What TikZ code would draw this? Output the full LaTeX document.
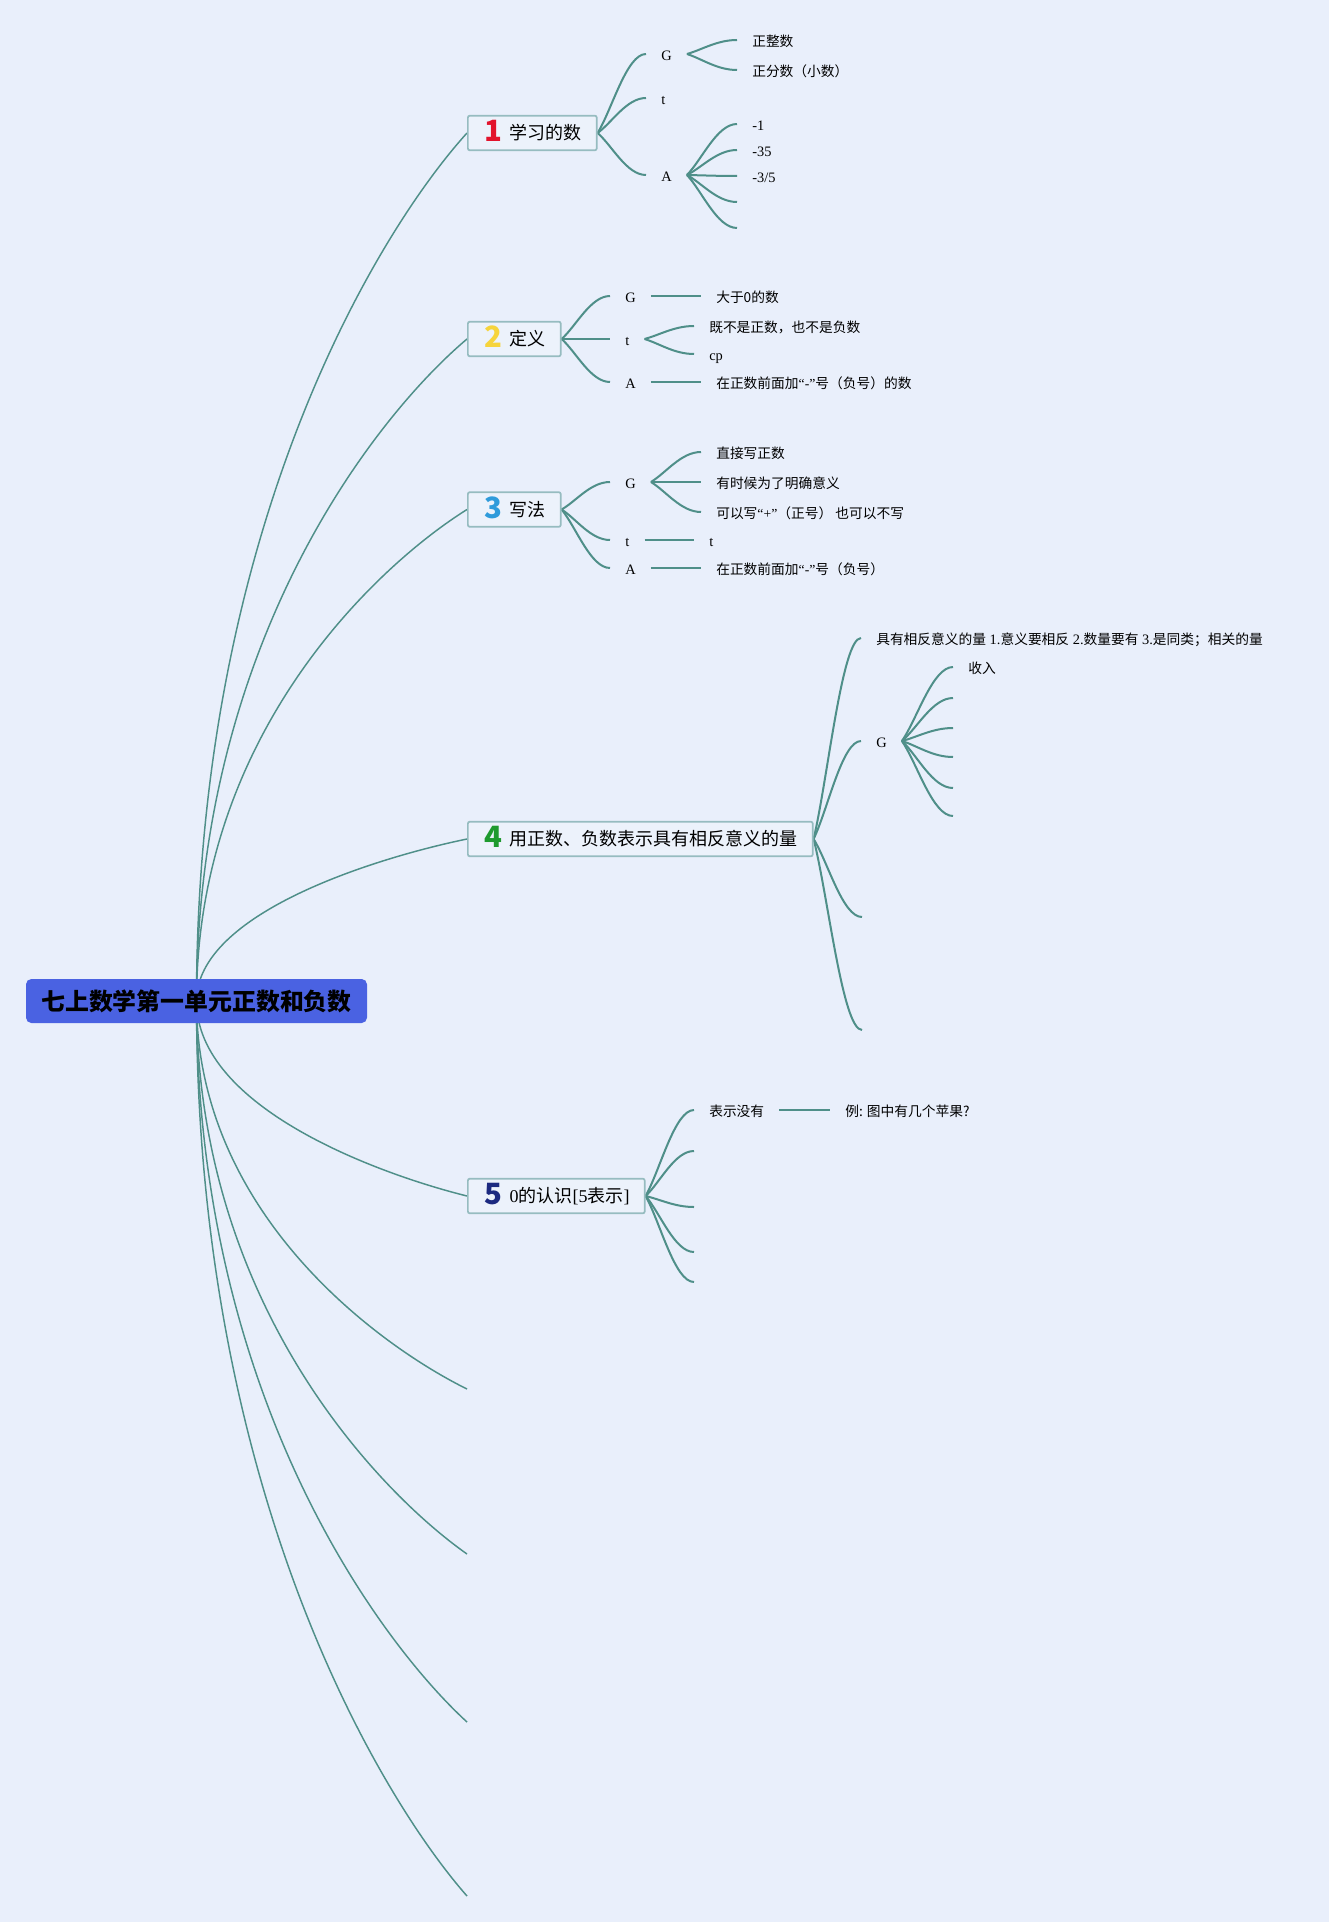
\documentclass[tikz,border=0pt]{standalone}
\usepackage{fontspec}
\setmainfont{Liberation Serif}
\newfontfamily\cjk{Noto Sans CJK SC}
\usetikzlibrary{calc}
\pgfdeclarelayer{bglayer}
\pgfdeclarelayer{linelayer}
\pgfsetlayers{bglayer,linelayer,main}
\definecolor{bgc}{HTML}{E9EFFB}
\definecolor{linec}{HTML}{4F8F89}
\definecolor{boxline}{HTML}{96BCC0}
\definecolor{boxfill}{HTML}{ECF2FB}
\definecolor{rootc}{HTML}{4A62E2}
\definecolor{nA}{HTML}{E2132C}
\definecolor{nB}{HTML}{F6D43C}
\definecolor{nC}{HTML}{2F9BDB}
\definecolor{nD}{HTML}{1E9A2E}
\definecolor{nE}{HTML}{1C2A80}
\newcommand\zh[1]{{\cjk\fontsize{10.3}{12.5}\selectfont #1}}
\newcommand\bignum[2]{\raisebox{-1.6pt}{\color{#1}\cjk\bfseries\fontsize{22}{22}\selectfont #2}}
\begin{document}
\begin{tikzpicture}[x=0.75pt,y=-0.75pt,
  rootnode/.style={fill=rootc,rounded corners=4pt,minimum width=255.75pt,minimum height=33pt,inner sep=0pt,
    font=\cjk\bfseries\fontsize{17.9}{20}\selectfont,text=black},
  boxnode/.style={anchor=west,draw=boxline,line width=1.3pt,fill=boxfill,rounded corners=1.5pt,inner xsep=0pt,inner ysep=0pt,
    minimum height=26pt,text height=12.7pt,text depth=2.5pt,font=\cjk\fontsize{13.5}{16}\selectfont},
  leaf/.style={anchor=west,inner xsep=11.25pt,inner ysep=1pt,text height=9.5pt,text depth=0pt,font=\fontsize{10.8}{13}\selectfont},
  zhleaf/.style={leaf,font=\cjk\fontsize{10.3}{12.5}\selectfont},
  rootlink/.style={draw=linec,line width=1.1pt,to path={let \p1=(\tikztostart), \p2=(\tikztotarget) in
    .. controls (\x1,{\y1+0.55*(\y2-\y1)}) and ({\x1+0.68*(\x2-\x1)},{\y1+0.89*(\y2-\y1)}) .. (\tikztotarget)}},
  sublink/.style={draw=linec,line width=1.5pt,to path={let \p1=(\tikztostart), \p2=(\tikztotarget) in
    .. controls ({\x1+0.3*(\x2-\x1)},{\y1+0.3*(\y2-\y1)}) and ({\x1+0.6*(\x2-\x1)},\y2) .. (\tikztotarget)}}
]
\useasboundingbox (0,0) rectangle (1329,1922);
\begin{pgfonlayer}{bglayer}
\fill[bgc] (0,0) rectangle (1329,1922);
\end{pgfonlayer}

% root
\node[rootnode] (root) at (196.5,1001) {七上数学第一单元正数和负数};

% main branches
\node[boxnode] (b1) at (467,133) {\hspace*{12.75pt}\bignum{nA}{1}\hspace{5.25pt}学习的数\hspace*{11.25pt}};
\node[boxnode] (b2) at (467,339) {\hspace*{12.75pt}\bignum{nB}{2}\hspace{5.25pt}定义\hspace*{11.25pt}};
\node[boxnode] (b3) at (467,509.5) {\hspace*{12.75pt}\bignum{nC}{3}\hspace{5.25pt}写法\hspace*{11.25pt}};
\node[boxnode] (b4) at (467,839) {\hspace*{12.75pt}\bignum{nD}{4}\hspace{5.25pt}用正数、负数表示具有相反意义的量\hspace*{11.25pt}};
\node[boxnode] (b5) at (467,1196) {\hspace*{12.75pt}\bignum{nE}{5}\hspace{5.25pt}{\rmfamily 0}的认识{\rmfamily [5}表示{\rmfamily ]}\hspace*{11.25pt}};
\coordinate (e1) at (467,1389);
\coordinate (e2) at (467,1554);
\coordinate (e3) at (467,1722);
\coordinate (e4) at (467,1896);

% branch 1
\node[leaf] (b1G) at (646,54) {G};
\node[leaf] (b1t) at (646,98) {t};
\node[leaf] (b1A) at (646,175) {A};
\node[zhleaf] (b1G1) at (737,40) {正整数};
\node[zhleaf] (b1G2) at (737,70) {正分数（小数）};
\node[leaf] (b1A1) at (737,124) {-1};
\node[leaf] (b1A2) at (737,150) {-35};
\node[leaf] (b1A3) at (737,176) {-3/5};
\coordinate (b1A4) at (737,202);
\coordinate (b1A5) at (737,228);

% branch 2
\node[leaf] (b2G) at (610,296) {G};
\node[leaf] (b2t) at (610,339) {t};
\node[leaf] (b2A) at (610,382) {A};
\node[zhleaf] (b2G1) at (701,296) {大于0的数};
\node[zhleaf] (b2t1) at (694,326) {既不是正数，也不是负数};
\node[leaf] (b2t2) at (694,354) {cp};
\node[zhleaf] (b2A1) at (701,382) {在正数前面加{\rmfamily “-”}号（负号）的数};

% branch 3
\node[leaf] (b3G) at (610,482) {G};
\node[leaf] (b3t) at (610,540) {t};
\node[leaf] (b3A) at (610,568) {A};
\node[zhleaf] (b3G1) at (701,452) {直接写正数};
\node[zhleaf] (b3G2) at (701,482) {有时候为了明确意义};
\node[zhleaf] (b3G3) at (701,512) {可以写{\rmfamily “+”}（正号） 也可以不写};
\node[leaf] (b3t1) at (694,540) {t};
\node[zhleaf] (b3A1) at (701,568) {在正数前面加{\rmfamily “-”}号（负号）};

% branch 4
\node[leaf] (b4a) at (861,638) {\zh{具有相反意义的量} 1.\zh{意义要相反} 2.\zh{数量要有} 3.\zh{是同类；相关的量}};
\node[leaf] (b4G) at (861,741) {G};
\coordinate (b4c) at (862,917);
\coordinate (b4d) at (862,1030);
\node[zhleaf] (b4G1) at (953,667) {收入};
\coordinate (b4G2) at (953,698);
\coordinate (b4G3) at (953,728);
\coordinate (b4G4) at (953,757);
\coordinate (b4G5) at (953,788);
\coordinate (b4G6) at (953,816);

% branch 5
\node[zhleaf] (b5a) at (694,1110) {表示没有};
\coordinate (b5b) at (694,1151);
\coordinate (b5c) at (694,1207);
\coordinate (b5d) at (694,1252);
\coordinate (b5e) at (694,1282);
\node[zhleaf] (b5a1) at (830,1110) {例: 图中有几个苹果?};

\begin{pgfonlayer}{linelayer}
\foreach \t in {b1,b2,b3,b4,b5} \draw[rootlink] (root.center) to (\t.west);
\foreach \t in {e1,e2,e3,e4} \draw[rootlink] (root.center) to (\t);
% branch 1
\foreach \t in {b1G,b1t,b1A} \draw[sublink] (b1.east) to (\t.west);
\foreach \t in {b1G1,b1G2} \draw[sublink] (b1G.east) to (\t.west);
\foreach \t in {b1A1,b1A2,b1A3} \draw[sublink] (b1A.east) to (\t.west);
\foreach \t in {b1A4,b1A5} \draw[sublink] (b1A.east) to (\t);
% branch 2
\foreach \t in {b2G,b2t,b2A} \draw[sublink] (b2.east) to (\t.west);
\draw[sublink] (b2G.east) to (b2G1.west);
\foreach \t in {b2t1,b2t2} \draw[sublink] (b2t.east) to (\t.west);
\draw[sublink] (b2A.east) to (b2A1.west);
% branch 3
\foreach \t in {b3G,b3t,b3A} \draw[sublink] (b3.east) to (\t.west);
\foreach \t in {b3G1,b3G2,b3G3} \draw[sublink] (b3G.east) to (\t.west);
\draw[sublink] (b3t.east) to (b3t1.west);
\draw[sublink] (b3A.east) to (b3A1.west);
% branch 4
\foreach \t in {b4a,b4G} \draw[sublink] (b4.east) to (\t.west);
\foreach \t in {b4c,b4d} \draw[sublink] (b4.east) to (\t);
\draw[sublink] (b4G.east) to (b4G1.west);
\foreach \t in {b4G2,b4G3,b4G4,b4G5,b4G6} \draw[sublink] (b4G.east) to (\t);
% branch 5
\draw[sublink] (b5.east) to (b5a.west);
\foreach \t in {b5b,b5c,b5d,b5e} \draw[sublink] (b5.east) to (\t);
\draw[sublink] (b5a.east) to (b5a1.west);
\end{pgfonlayer}
\end{tikzpicture}
\end{document}
